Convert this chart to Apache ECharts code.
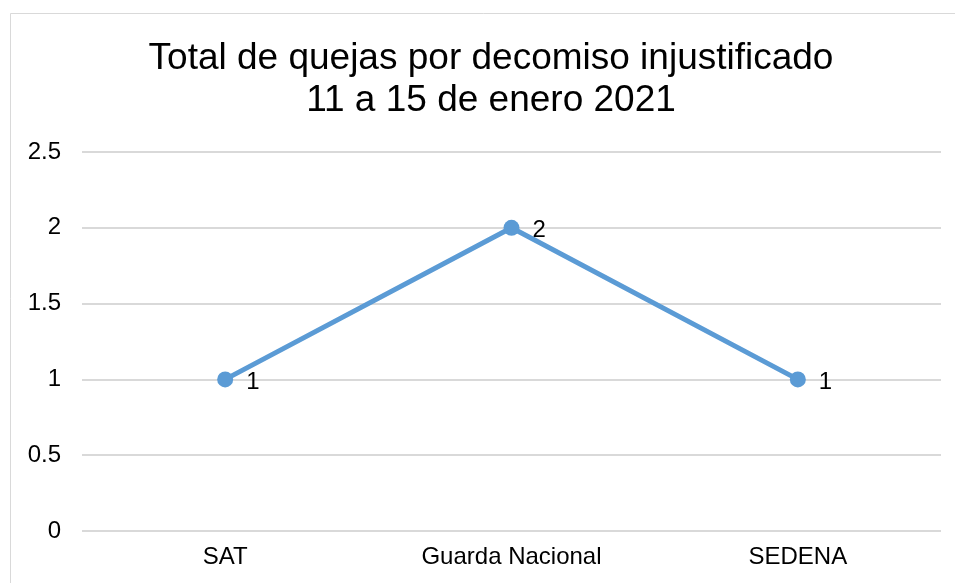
<!DOCTYPE html>
<html>
<head>
<meta charset="utf-8">
<script src="https://cdn.jsdelivr.net/npm/echarts@6/dist/echarts.min.js"></script>
<style>html,body{margin:0;padding:0;background:#fff;}#c{width:955px;height:583px;}</style>
</head>
<body>
<div id="c"></div>
<script>
const titleText = 'Total de quejas por decomiso injustificado\n11 a 15 de enero 2021';
const categories = ['SAT', 'Guarda Nacional', 'SEDENA'];
const values = [1, 2, 1];
const yTicks = { min: 0, max: 2.5, interval: 0.5 };

const chart = echarts.init(document.getElementById('c'), null, { renderer: 'canvas' });
chart.setOption({
  backgroundColor: '#ffffff',
  animation: false,
  graphic: [{
    type: 'rect', shape: { x: 10.5, y: 13.5, width: 1000, height: 700 },
    style: { fill: 'none', stroke: '#d9d9d9', lineWidth: 1 }, silent: true, z: -1
  }],
  title: {
    text: titleText, left: 486, textAlign: 'center', top: 33,
    textStyle: { fontFamily: 'Liberation Sans, Arial', fontSize: 37, fontWeight: 'normal', color: '#000', lineHeight: 42 }
  },
  grid: { left: 82, right: 14, top: 152, bottom: 52, containLabel: false },
  xAxis: {
    type: 'category', data: categories, boundaryGap: true,
    axisLine: { show: false }, axisTick: { show: false },
    axisLabel: { fontFamily: 'Liberation Sans, Arial', fontSize: 24, color: '#000', margin: 14 }
  },
  yAxis: {
    type: 'value', min: yTicks.min, max: yTicks.max, interval: yTicks.interval,
    axisLine: { show: false }, axisTick: { show: false },
    axisLabel: { fontFamily: 'Liberation Sans, Arial', fontSize: 24, color: '#000', margin: 21 },
    splitLine: { lineStyle: { color: '#d9d9d9', width: 2 } }
  },
  series: [{
    type: 'line', data: values,
    symbol: 'circle', symbolSize: 16,
    lineStyle: { color: '#5b9bd5', width: 5 },
    itemStyle: { color: '#5b9bd5' },
    label: { show: true, position: 'right', distance: 13, offset: [0, 3], fontFamily: 'Liberation Sans, Arial', fontSize: 24, color: '#000' }
  }]
});
</script>
</body>
</html>
